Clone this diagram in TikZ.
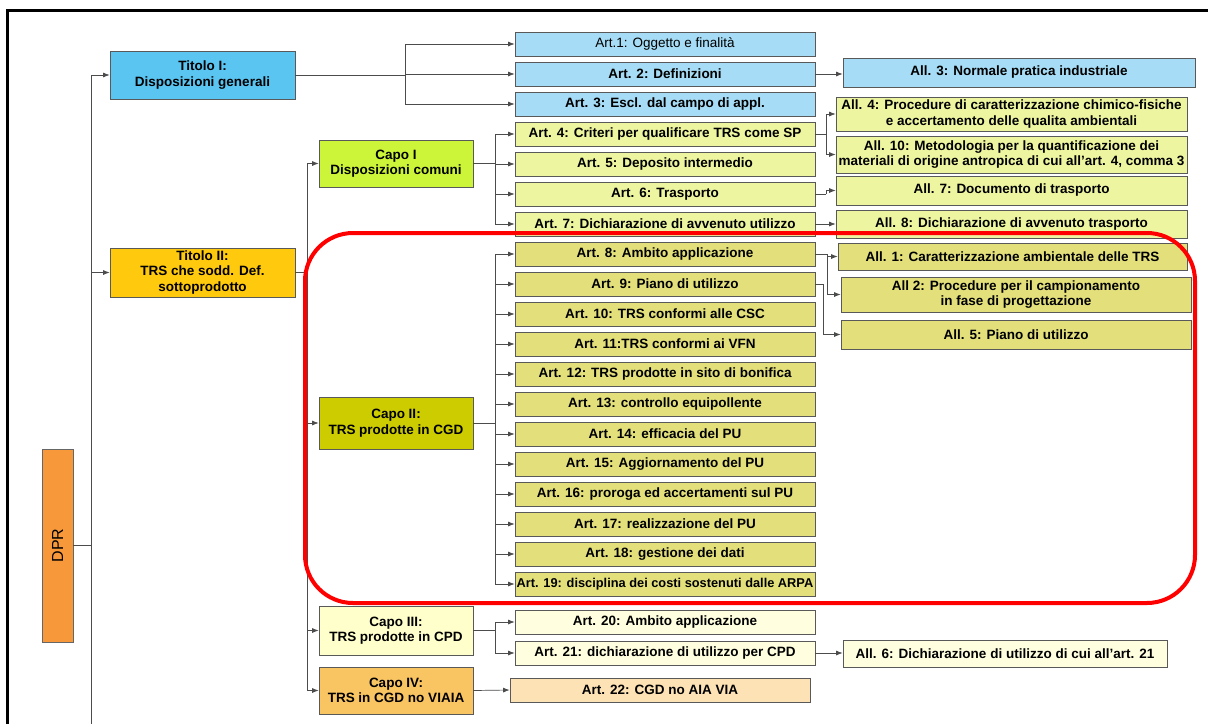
\documentclass[tikz,border=0pt]{standalone}
\usepackage{fontspec}
\setmainfont{Liberation Sans}
\usepackage{xcolor}
\usetikzlibrary{arrows.meta}

\definecolor{dprorange}{HTML}{F7993A}
\definecolor{titblue}{HTML}{5BC5F2}
\definecolor{titgold}{HTML}{FFC90E}
\definecolor{capolime}{HTML}{CCF53A}
\definecolor{capoolive}{HTML}{CCCC00}
\definecolor{capocream}{HTML}{FFFFCC}
\definecolor{capoorange}{HTML}{F9C462}
\definecolor{artblue}{HTML}{A6DCF5}
\definecolor{artgreen}{HTML}{EEF5A0}
\definecolor{artolive}{HTML}{E3E07C}
\definecolor{artcream}{HTML}{FFFFE0}
\definecolor{artpeach}{HTML}{FCE2B4}

\tikzset{
  box/.style={draw=black!65, line width=0.8pt, rectangle, inner sep=0pt, align=center,
              font=\fontsize{13.5}{15.5}\selectfont\bfseries},
  artbox/.style={box, minimum width=300pt, minimum height=24pt},
  allbox/.style={box, minimum width=351pt},
  capobox/.style={box, minimum width=154pt},
  arr/.style={-{Latex[length=6.5pt,width=5pt]}, draw=black!70, line width=0.7pt},
  link/.style={draw=black!70, line width=0.7pt}
}

\begin{document}
\begin{tikzpicture}[x=1pt,y=-1pt]
        \useasboundingbox (0,0) rectangle (1208,724);
        \draw[line width=3pt] (7,724) -- (7,10) -- (1208,10);

        % DPR and Titoli
        \node[draw=black!60, fill=dprorange, minimum width=31pt, minimum height=193pt, inner sep=0pt]
              (dpr) at (57.5,545.5) {};
        \node[rotate=90, font=\fontsize{16}{18}\selectfont] (dprtext) at (dpr.center) {DPR};
        \node[box, fill=titblue, minimum width=185pt, minimum height=48pt] (t1) at (202.5,75) {Titolo I:\\Disposizioni generali};
        \node[box, fill=titgold, minimum width=185pt, minimum height=49pt] (t2) at (202.5,272.5) {Titolo II:\\TRS che sodd. Def.\\sottoprodotto};

        % Capi
        \node[capobox, fill=capolime, minimum height=47pt] (c1) at (396,163.5) {Capo I\\Disposizioni comuni};
        \node[capobox, fill=capoolive, minimum height=52pt] (c2) at (396,423) {Capo II:\\TRS prodotte in CGD};
        \node[capobox, fill=capocream, minimum height=49pt] (c3) at (396,630.5) {Capo III:\\TRS prodotte in CPD};
        \node[capobox, fill=capoorange, minimum height=47pt] (c4) at (396,690.5) {Capo IV:\\TRS in CGD no VIAIA};

        % Articoli
        \node[artbox, fill=artblue] (a1) at (665,44) {\mdseries Art.1: Oggetto e finalità};
        \node[artbox, fill=artblue] (a2) at (665,74) {Art. 2: Definizioni};
        \node[artbox, fill=artblue] (a3) at (665,104) {Art. 3: Escl. dal campo di appl.};
        \node[artbox, fill=artgreen] (a4) at (665,134) {Art. 4: Criteri per qualificare TRS come SP};
        \node[artbox, fill=artgreen] (a5) at (665,164) {Art. 5: Deposito intermedio};
        \node[artbox, fill=artgreen] (a6) at (665,194) {Art. 6: Trasporto};
        \node[artbox, fill=artgreen] (a7) at (665,224) {Art. 7: Dichiarazione di avvenuto utilizzo};
        \node[artbox, fill=artolive] (a8) at (665,254) {Art. 8: Ambito applicazione};
        \node[artbox, fill=artolive] (a9) at (665,284) {Art. 9: Piano di utilizzo};
        \node[artbox, fill=artolive] (a10) at (665,314) {Art. 10: TRS conformi alle CSC};
        \node[artbox, fill=artolive] (a11) at (665,344) {Art. 11:TRS conformi ai VFN};
        \node[artbox, fill=artolive] (a12) at (665,374) {Art. 12: TRS prodotte in sito di bonifica};
        \node[artbox, fill=artolive] (a13) at (665,404) {Art. 13: controllo equipollente};
        \node[artbox, fill=artolive] (a14) at (665,434) {Art. 14: efficacia del PU};
        \node[artbox, fill=artolive] (a15) at (665,464) {Art. 15: Aggiornamento del PU};
        \node[artbox, fill=artolive] (a16) at (665,494) {Art. 16: proroga ed accertamenti sul PU};
        \node[artbox, fill=artolive] (a17) at (665,524) {Art. 17: realizzazione del PU};
        \node[artbox, fill=artolive] (a18) at (665,554) {Art. 18: gestione dei dati};
        \node[artbox, fill=artolive, font=\fontsize{12.8}{15}\selectfont\bfseries] (a19) at (665,584) {Art. 19: disciplina dei costi sostenuti dalle ARPA};
        \node[artbox, fill=artcream] (a20) at (665,622) {Art. 20: Ambito applicazione};
        \node[artbox, fill=artcream] (a21) at (665,653) {Art. 21: dichiarazione di utilizzo per CPD};
        \node[artbox, fill=artpeach] (a22) at (660,690) {Art. 22: CGD no AIA VIA};

        % Allegati
        \node[allbox, fill=artblue, minimum width=352pt, minimum height=29pt] (all3) at (1019,72.5) {All. 3: Normale pratica industriale};
        \node[allbox, fill=artgreen, minimum height=34pt] (all4) at (1011.5,114) {All. 4: Procedure di caratterizzazione chimico-fisiche\\e accertamento delle qualita ambientali};
        \node[allbox, fill=artgreen, minimum height=37pt] (all10) at (1011.5,154.5) {All. 10: Metodologia per la quantificazione dei\\materiali di origine antropica di cui all'art. 4, comma 3};
        \node[allbox, fill=artgreen, minimum height=29pt] (all7) at (1011.5,190.5) {All. 7: Documento di trasporto};
        \node[allbox, fill=artgreen, minimum height=28pt] (all8) at (1011.5,224) {All. 8: Dichiarazione di avvenuto trasporto};
        \node[allbox, fill=artolive, minimum width=349pt, minimum height=27pt] (all1) at (1012.5,256.5) {All. 1: Caratterizzazione ambientale delle TRS};
        \node[allbox, fill=artolive, minimum width=350pt, minimum height=35pt] (all2) at (1016,294.5) {All 2: Procedure per il campionamento\\in fase di progettazione};
        \node[allbox, fill=artolive, minimum width=350pt, minimum height=29pt] (all5) at (1016,334.5) {All. 5: Piano di utilizzo};
        \node[allbox, fill=artcream, minimum width=324pt, minimum height=27pt] (all6) at (1005,653.5) {All. 6: Dichiarazione di utilizzo di cui all'art. 21};

        % junctions
        \coordinate (jdpr) at (91,545.5);
        \coordinate (jt1) at (405,75);
        \coordinate (jt2) at (307,272.5);
        \coordinate (jc1) at (495,163.5);
        \coordinate (jc2) at (495,423);
        \coordinate (jc3) at (495,630.5);
        \coordinate (ja4) at (826,134);
        \coordinate (ja6) at (826,194);
        \coordinate (ja8) at (827,254);
        \coordinate (ja9) at (823,284);

        \draw[link] (dpr.east) -- (jdpr);
        \draw[link] (jdpr) -- (91,724);
        \draw[arr] (jdpr) |- (t1.west);
        \draw[arr] (jdpr) |- (t2.west);

        \draw[link] (t1.east) -- (jt1);
        \draw[arr] (jt1) |- (a1.west);
        \draw[arr] (jt1) |- (a2.west);
        \draw[arr] (jt1) |- (a3.west);

        \draw[link] (t2.east) -- (jt2);
        \draw[arr] (jt2) |- (c1.west);
        \draw[arr] (jt2) |- (c2.west);
        \draw[arr] (jt2) |- (c3.west);
        \draw[arr] (jt2) |- (c4.west);

        \draw[link] (c1.east) -- (jc1);
        \draw[arr] (jc1) |- (a4.west);
        \draw[arr] (jc1) |- (a5.west);
        \draw[arr] (jc1) |- (a6.west);
        \draw[arr] (jc1) |- (a7.west);

        \draw[link] (c2.east) -- (jc2);
        \draw[arr] (jc2) |- (a8.west);
        \draw[arr] (jc2) |- (a9.west);
        \draw[arr] (jc2) |- (a10.west);
        \draw[arr] (jc2) |- (a11.west);
        \draw[arr] (jc2) |- (a12.west);
        \draw[arr] (jc2) |- (a13.west);
        \draw[arr] (jc2) |- (a14.west);
        \draw[arr] (jc2) |- (a15.west);
        \draw[arr] (jc2) |- (a16.west);
        \draw[arr] (jc2) |- (a17.west);
        \draw[arr] (jc2) |- (a18.west);
        \draw[arr] (jc2) |- (a19.west);

        \draw[link] (c3.east) -- (jc3);
        \draw[arr] (jc3) |- (a20.west);
        \draw[arr] (jc3) |- (a21.west);

        \draw[arr] (c4.east) -- (a22.west);

        \draw[arr] (a2.east) -- (a2.east -| all3.west);
        \draw[link] (a4.east) -- (ja4);
        \draw[arr] (ja4) |- (all4.west);
        \draw[arr] (ja4) |- (all10.west);
        \draw[link] (a6.east) -- (ja6);
        \draw[arr] (ja6) |- (all7.west);
        \draw[arr] (a7.east) -- (a7.east -| all8.west);
        \draw[link] (a8.east) -- (ja8);
        \draw[arr] (ja8) |- (all1.west);
        \draw[arr] (ja8) |- (all2.west);
        \draw[link] (a9.east) -- (ja9);
        \draw[arr] (ja9) |- (all5.west);
        \draw[arr] (a21.east) -- (a21.east -| all6.west);

        % highlight of Capo II
        \draw[red, line width=4pt, rounded corners=48pt] (305,233) rectangle (1195,603);
\end{tikzpicture}
\end{document}
